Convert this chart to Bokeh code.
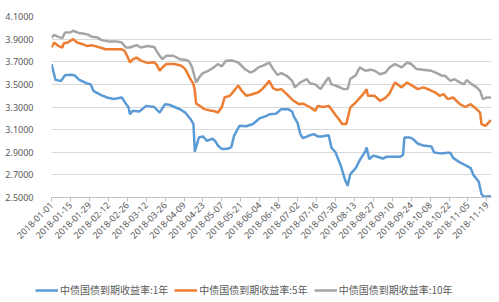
import math
import pandas as pd
from bokeh.plotting import figure
from bokeh.layouts import column
from bokeh.models import Range1d, FixedTicker, DatetimeTickFormatter, PrintfTickFormatter, Legend, LegendItem
from bokeh.embed import file_html
from bokeh.resources import INLINE

# ---- data ----
dates_1y = ["2018-01-01","2018-01-04","2018-01-08","2018-01-11","2018-01-15","2018-01-18","2018-01-21",
            "2018-01-22","2018-01-27","2018-01-30","2018-02-01","2018-02-03","2018-02-06","2018-02-11",
            "2018-02-16","2018-02-22","2018-02-25","2018-02-27","2018-02-28","2018-03-02","2018-03-07",
            "2018-03-12","2018-03-18","2018-03-22","2018-03-26","2018-03-29","2018-04-02","2018-04-06",
            "2018-04-10","2018-04-12","2018-04-14","2018-04-16","2018-04-17","2018-04-20","2018-04-23",
            "2018-04-26","2018-04-30","2018-05-02","2018-05-04","2018-05-07","2018-05-11","2018-05-14",
            "2018-05-16","2018-05-20","2018-05-25","2018-05-30","2018-06-04","2018-06-09","2018-06-11",
            "2018-06-16","2018-06-20","2018-06-25","2018-06-28","2018-06-29","2018-07-02","2018-07-04",
            "2018-07-06","2018-07-11","2018-07-14","2018-07-17","2018-07-20","2018-07-25","2018-07-27",
            "2018-07-30","2018-08-03","2018-08-06","2018-08-08","2018-08-10","2018-08-14","2018-08-17",
            "2018-08-21","2018-08-22","2018-08-24","2018-08-27","2018-08-30","2018-09-03","2018-09-06",
            "2018-09-11","2018-09-16","2018-09-18","2018-09-19","2018-09-23","2018-09-25","2018-09-29",
            "2018-10-03","2018-10-09","2018-10-11","2018-10-16","2018-10-21","2018-10-23","2018-10-25",
            "2018-10-30","2018-11-04","2018-11-07","2018-11-09","2018-11-13","2018-11-15","2018-11-17",
            "2018-11-22"]
yield_1y = [3.68,3.54,3.53,3.58,3.585,3.58,3.546,
            3.537,3.51,3.50,3.443,3.43,3.41,3.384,
            3.37,3.384,3.33,3.296,3.237,3.266,3.26,
            3.31,3.30,3.25,3.325,3.32,3.30,3.28,
            3.25,3.22,3.19,3.149,2.906,3.03,3.04,
            3.00,3.02,3.00,2.96,2.928,2.93,2.945,
            3.045,3.134,3.13,3.15,3.20,3.222,3.235,
            3.24,3.281,3.281,3.26,3.222,3.16,3.06,
            3.024,3.05,3.06,3.04,3.04,3.051,2.942,
            2.90,2.78,2.66,2.603,2.707,2.76,2.83,
            2.905,2.942,2.839,2.87,2.86,2.845,2.86,
            2.86,2.86,2.877,3.03,3.03,3.02,2.975,
            2.96,2.95,2.898,2.89,2.895,2.895,2.85,
            2.81,2.78,2.76,2.70,2.64,2.53,2.506,
            2.51]

dates_5y = ["2018-01-01","2018-01-03","2018-01-06","2018-01-09","2018-01-10","2018-01-13","2018-01-17",
            "2018-01-20","2018-01-24","2018-01-27","2018-01-31","2018-02-06","2018-02-10","2018-02-16",
            "2018-02-22","2018-02-24","2018-02-26","2018-02-28","2018-03-02","2018-03-05","2018-03-08",
            "2018-03-13","2018-03-18","2018-03-20","2018-03-22","2018-03-24","2018-03-27","2018-04-02",
            "2018-04-07","2018-04-10","2018-04-13","2018-04-16","2018-04-17","2018-04-18","2018-04-22",
            "2018-04-24","2018-04-28","2018-05-01","2018-05-04","2018-05-07","2018-05-09","2018-05-13",
            "2018-05-17","2018-05-19","2018-05-22","2018-05-25","2018-05-29","2018-06-03","2018-06-06",
            "2018-06-09","2018-06-11","2018-06-14","2018-06-17","2018-06-20","2018-06-24","2018-06-29",
            "2018-07-03","2018-07-06","2018-07-11","2018-07-15","2018-07-17","2018-07-21","2018-07-25",
            "2018-07-27","2018-07-30","2018-08-01","2018-08-04","2018-08-07","2018-08-10","2018-08-14",
            "2018-08-17","2018-08-20","2018-08-22","2018-08-23","2018-08-28","2018-09-01","2018-09-05",
            "2018-09-08","2018-09-12","2018-09-17","2018-09-21","2018-09-25","2018-09-29","2018-10-03",
            "2018-10-08","2018-10-12","2018-10-15","2018-10-18","2018-10-21","2018-10-25","2018-10-30",
            "2018-11-03","2018-11-07","2018-11-10","2018-11-14","2018-11-15","2018-11-18","2018-11-22"]
yield_5y = [3.826,3.87,3.84,3.826,3.861,3.87,3.90,
            3.87,3.855,3.84,3.845,3.826,3.81,3.81,
            3.81,3.797,3.75,3.693,3.72,3.737,3.71,
            3.69,3.695,3.67,3.62,3.65,3.68,3.68,
            3.664,3.635,3.561,3.502,3.443,3.33,3.30,
            3.281,3.27,3.265,3.25,3.30,3.384,3.40,
            3.458,3.49,3.44,3.399,3.41,3.43,3.46,
            3.50,3.531,3.465,3.45,3.458,3.414,3.355,
            3.325,3.33,3.30,3.266,3.31,3.30,3.31,
            3.281,3.23,3.20,3.149,3.149,3.296,3.34,
            3.38,3.42,3.458,3.399,3.399,3.355,3.38,
            3.42,3.517,3.473,3.517,3.487,3.458,3.473,
            3.45,3.428,3.399,3.414,3.37,3.384,3.325,
            3.30,3.325,3.296,3.25,3.149,3.134,3.184]

dates_10y = ["2018-01-01","2018-01-03","2018-01-06","2018-01-09","2018-01-11","2018-01-15","2018-01-17",
             "2018-01-21","2018-01-24","2018-01-28","2018-01-31","2018-02-04","2018-02-07","2018-02-12",
             "2018-02-18","2018-02-22","2018-02-25","2018-02-28","2018-03-05","2018-03-08","2018-03-13",
             "2018-03-18","2018-03-20","2018-03-22","2018-03-24","2018-03-27","2018-04-01","2018-04-06",
             "2018-04-11","2018-04-13","2018-04-15","2018-04-17","2018-04-18","2018-04-21","2018-04-23",
             "2018-04-27","2018-05-01","2018-05-04","2018-05-07","2018-05-10","2018-05-15","2018-05-19",
             "2018-05-22","2018-05-24","2018-05-28","2018-05-31","2018-06-03","2018-06-06","2018-06-09",
             "2018-06-11","2018-06-14","2018-06-17","2018-06-20","2018-06-24","2018-06-28","2018-06-30",
             "2018-07-04","2018-07-09","2018-07-11","2018-07-15","2018-07-19","2018-07-23","2018-07-25",
             "2018-07-27","2018-07-30","2018-08-03","2018-08-05","2018-08-08","2018-08-10","2018-08-14",
             "2018-08-17","2018-08-21","2018-08-25","2018-08-28","2018-09-01","2018-09-05","2018-09-08",
             "2018-09-12","2018-09-17","2018-09-21","2018-09-24","2018-09-28","2018-10-09","2018-10-13",
             "2018-10-17","2018-10-19","2018-10-23","2018-10-26","2018-10-30","2018-11-02","2018-11-04",
             "2018-11-08","2018-11-11","2018-11-14","2018-11-16","2018-11-19","2018-11-22"]
yield_10y = [3.914,3.938,3.92,3.909,3.959,3.96,3.974,
             3.955,3.95,3.94,3.92,3.915,3.891,3.88,
             3.88,3.87,3.826,3.826,3.847,3.826,3.84,
             3.83,3.79,3.753,3.723,3.753,3.753,3.723,
             3.715,3.70,3.65,3.561,3.517,3.576,3.60,
             3.62,3.65,3.679,3.66,3.708,3.71,3.693,
             3.66,3.635,3.605,3.62,3.65,3.664,3.68,
             3.693,3.635,3.584,3.60,3.576,3.531,3.473,
             3.517,3.546,3.51,3.50,3.458,3.53,3.561,
             3.50,3.49,3.47,3.458,3.46,3.55,3.58,
             3.65,3.62,3.63,3.62,3.59,3.605,3.65,
             3.679,3.65,3.693,3.68,3.635,3.62,3.60,
             3.576,3.576,3.531,3.545,3.517,3.50,3.538,
             3.50,3.478,3.443,3.37,3.384,3.384]

labels = ["中债国债到期收益率:1年", "中债国债到期收益率:5年", "中债国债到期收益率:10年"]
colors = ["#5B9BD5", "#ED7D31", "#A5A5A5"]

tick_dates = ["2018-01-01","2018-01-15","2018-01-29","2018-02-12","2018-02-26","2018-03-12","2018-03-26",
              "2018-04-09","2018-04-23","2018-05-07","2018-05-21","2018-06-04","2018-06-18","2018-07-02",
              "2018-07-16","2018-07-30","2018-08-13","2018-08-27","2018-09-10","2018-09-24","2018-10-08",
              "2018-10-22","2018-11-05","2018-11-19"]
y_ticks = [2.5, 2.7, 2.9, 3.1, 3.3, 3.5, 3.7, 3.9, 4.1]

series = [(dates_1y, yield_1y), (dates_5y, yield_5y), (dates_10y, yield_10y)]

# ---- main chart ----
x_start = pd.Timestamp("2018-01-01")
x_end = pd.Timestamp("2018-11-22 10:00")

p = figure(width=499, height=270, x_axis_type="datetime",
           x_range=Range1d(x_start, x_end), y_range=Range1d(2.5, 4.1),
           output_backend="svg", toolbar_location=None,
           min_border_left=51, min_border_right=8, min_border_top=16, min_border_bottom=73)
p.outline_line_color = None
p.background_fill_color = "white"
p.border_fill_color = "white"

for (d, v), col in zip(series, colors):
    p.line(x=pd.to_datetime(d), y=v, line_color=col, line_width=2.5)

p.xgrid.grid_line_color = None
p.ygrid.grid_line_color = "#D9D9D9"
p.ygrid.grid_line_width = 1

p.yaxis.ticker = FixedTicker(ticks=y_ticks)
p.yaxis.formatter = PrintfTickFormatter(format="%.4f")
p.yaxis.axis_line_color = None
p.yaxis.major_tick_line_color = None
p.yaxis.minor_tick_line_color = None
p.yaxis.major_label_standoff = 12
p.yaxis.major_label_text_font = "Noto Sans"
p.yaxis.major_label_text_font_size = "9px"
p.yaxis.major_label_text_color = "#595959"

tick_ms = [pd.Timestamp(t).value // 10**6 for t in tick_dates]
p.xaxis.ticker = FixedTicker(ticks=tick_ms)
fmt = "%Y-%m-%d"
p.xaxis.formatter = DatetimeTickFormatter(milliseconds=fmt, seconds=fmt, minsec=fmt, minutes=fmt,
                                          hourmin=fmt, hours=fmt, days=fmt, months=fmt, years=fmt)
p.xaxis.major_label_orientation = math.pi / 4
p.xaxis.axis_line_color = "#BFBFBF"
p.xaxis.major_tick_line_color = "#BFBFBF"
p.xaxis.major_tick_in = 0
p.xaxis.major_tick_out = 4
p.xaxis.minor_tick_line_color = None
p.xaxis.major_label_standoff = 2
p.xaxis.major_label_text_font = "Noto Sans"
p.xaxis.major_label_text_font_size = "9px"
p.xaxis.major_label_text_color = "#595959"

# ---- legend strip (separate figure under the chart) ----
q = figure(width=499, height=32, x_range=Range1d(x_start, x_end), y_range=Range1d(2.5, 4.1),
           x_axis_location=None, y_axis_location=None,
           output_backend="svg", toolbar_location=None,
           min_border_left=0, min_border_right=0, min_border_top=0, min_border_bottom=0)
q.grid.visible = False
q.outline_line_color = None
q.border_fill_color = "white"
legend_x = 0
if "frame_align" in q.properties():
    q.frame_align = False
    p.frame_align = False
    legend_x = 35
items = []
for (d, v), col, lab in zip(series, colors, labels):
    r = q.line(x=pd.to_datetime(d), y=v, line_color=col, line_width=2.5, visible=False)
    items.append(LegendItem(label=lab, renderers=[r]))
lg = Legend(items=items, orientation="horizontal", location=(legend_x, 5),
            padding=0, margin=0, spacing=6, glyph_width=23, glyph_height=12, label_standoff=2,
            label_text_font="Noto Sans CJK SC", label_text_font_size="10px",
            label_text_color="#595959", border_line_color=None, background_fill_alpha=0)
q.add_layout(lg, "center")

layout = column(p, q, spacing=0)
open("out.html", "w").write(file_html(layout, INLINE))
